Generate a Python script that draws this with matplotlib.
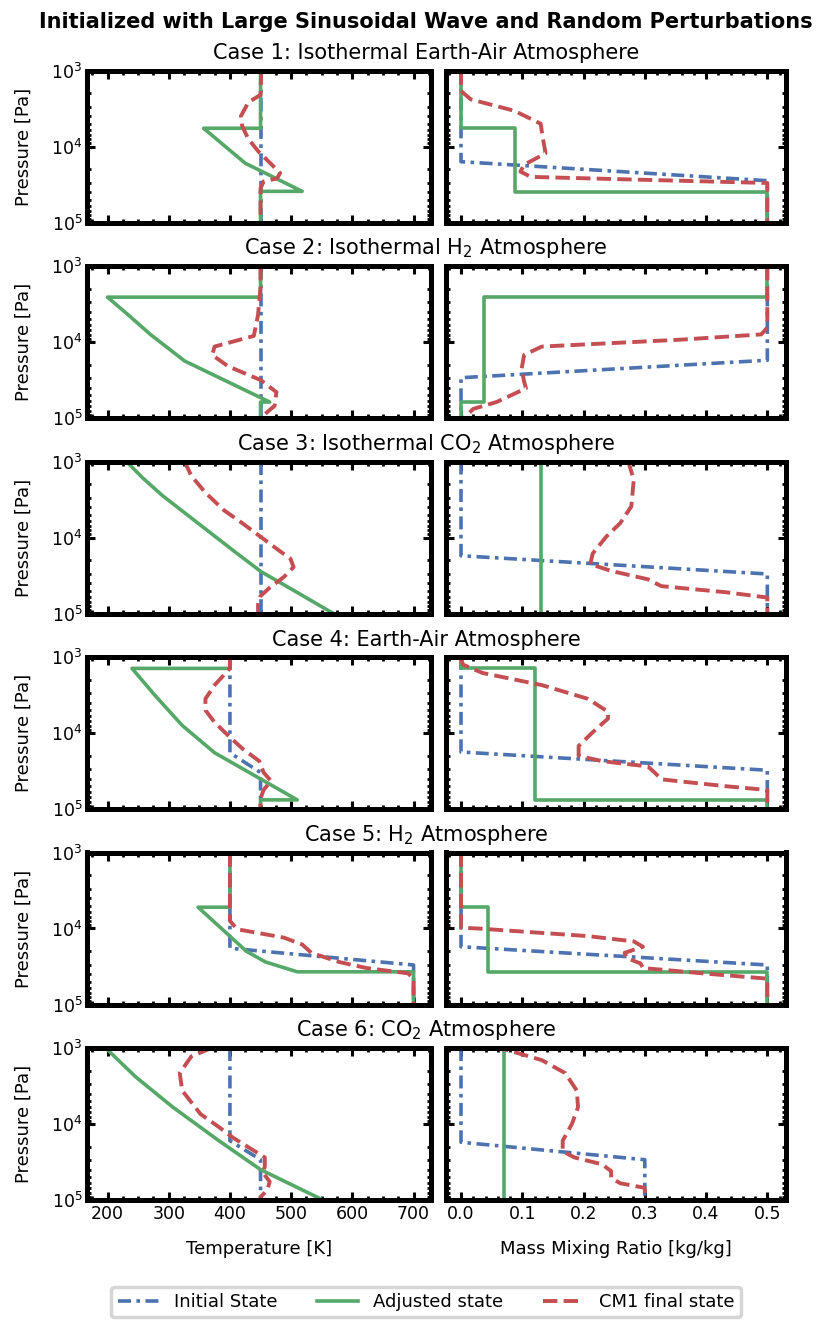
import numpy as np
import matplotlib
matplotlib.use("Agg")
import matplotlib.pyplot as plt
from matplotlib.ticker import LogLocator, MultipleLocator, NullFormatter

# colours (seaborn deep)
c_init = "#4C72B0"
c_adj = "#55A868"
c_cm1 = "#C44E52"

case_titles = [
    "Case 1: Isothermal Earth-Air Atmosphere",
    "Case 2: Isothermal H$_2$ Atmosphere",
    "Case 3: Isothermal CO$_2$ Atmosphere",
    "Case 4: Earth-Air Atmosphere",
    "Case 5: H$_2$ Atmosphere",
    "Case 6: CO$_2$ Atmosphere",
]

# pressures are given as log10(p / Pa)
# ---- case 1
T1_init = [450, 450]; lpT1_init = [3.0, 5.0]
T1_adj = [450, 450, 357, 425, 518, 450, 450]; lpT1_adj = [3.0, 3.76, 3.76, 4.22, 4.59, 4.59, 5.0]
T1_cm1 = [451, 450, 430, 418, 420, 430, 447, 466, 482, 477, 455, 450, 450]
lpT1_cm1 = [3.0, 3.32, 3.42, 3.60, 3.73, 3.90, 4.07, 4.22, 4.35, 4.42, 4.46, 4.55, 5.0]
q1_init = [0.0, 0.0, 0.5, 0.5]; lpq1_init = [3.0, 4.20, 4.45, 5.0]
q1_adj = [0.0, 0.0, 0.088, 0.088, 0.5, 0.5]; lpq1_adj = [3.0, 3.76, 3.76, 4.60, 4.60, 5.0]
q1_cm1 = [0.0, 0.0, 0.016, 0.087, 0.13, 0.133, 0.138, 0.103, 0.097, 0.114, 0.5, 0.5]
lpq1_cm1 = [3.0, 3.27, 3.38, 3.53, 3.70, 3.86, 4.09, 4.24, 4.33, 4.40, 4.48, 5.0]

# ---- case 2
T2_init = [450, 450]; lpT2_init = [3.0, 5.0]
T2_adj = [450, 450, 200, 232, 270, 326, 465, 450, 450]
lpT2_adj = [3.0, 3.41, 3.41, 3.63, 3.90, 4.25, 4.79, 4.79, 5.0]
T2_cm1 = [450, 450, 446, 439, 375, 371, 397, 450, 476, 473, 454, 450]
lpT2_cm1 = [3.0, 3.28, 3.64, 3.92, 4.06, 4.17, 4.32, 4.50, 4.66, 4.84, 4.97, 5.0]
q2_init = [0.5, 0.5, 0.0, 0.0]; lpq2_init = [3.0, 4.24, 4.47, 5.0]
q2_adj = [0.5, 0.5, 0.037, 0.037, 0.0, 0.0]; lpq2_adj = [3.0, 3.41, 3.41, 4.79, 4.79, 5.0]
q2_cm1 = [0.5, 0.5, 0.49, 0.357, 0.132, 0.103, 0.099, 0.103, 0.106, 0.058, 0.02, 0.005]
lpq2_cm1 = [3.0, 3.81, 3.90, 3.97, 4.06, 4.17, 4.35, 4.52, 4.61, 4.79, 4.88, 5.0]

# ---- case 3
T3_init = [450, 450]; lpT3_init = [3.0, 5.0]
T3_adj = [231, 258, 290, 330, 370, 410, 451, 505, 569]
lpT3_adj = [3.0, 3.22, 3.45, 3.70, 3.95, 4.20, 4.45, 4.70, 5.0]
T3_cm1 = [326, 337, 360, 390, 420, 450, 480, 499, 504, 488, 465, 450, 446, 446]
lpT3_cm1 = [3.0, 3.19, 3.41, 3.64, 3.81, 3.99, 4.17, 4.28, 4.39, 4.52, 4.66, 4.77, 4.88, 5.0]
q3_init = [0.0, 0.0, 0.5, 0.5]; lpq3_init = [3.0, 4.24, 4.48, 5.0]
q3_adj = [0.131, 0.131]; lpq3_adj = [3.0, 5.0]
q3_cm1 = [0.273, 0.282, 0.278, 0.26, 0.237, 0.215, 0.211, 0.245, 0.305, 0.327, 0.432, 0.5, 0.5]
lpq3_cm1 = [3.0, 3.24, 3.59, 3.81, 3.99, 4.21, 4.35, 4.44, 4.55, 4.64, 4.72, 4.79, 5.0]

# ---- case 4
T4_init = [400, 400, 450, 450]; lpT4_init = [3.0, 4.26, 4.52, 5.0]
T4_adj = [400, 400, 240, 277, 322, 375, 510, 450, 450]
lpT4_adj = [3.0, 3.15, 3.15, 3.50, 3.90, 4.26, 4.88, 4.88, 5.0]
T4_cm1 = [400, 400, 375, 360, 360, 375, 398, 421, 448, 455, 467, 455, 450, 450]
lpT4_cm1 = [3.0, 3.15, 3.37, 3.55, 3.70, 3.86, 4.04, 4.21, 4.37, 4.52, 4.63, 4.75, 4.86, 5.0]
q4_init = [0.0, 0.0, 0.5, 0.5]; lpq4_init = [3.0, 4.25, 4.49, 5.0]
q4_adj = [0.0, 0.0, 0.12, 0.12, 0.5, 0.5]; lpq4_adj = [3.0, 3.15, 3.15, 4.88, 4.88, 5.0]
q4_cm1 = [0.0, 0.003, 0.035, 0.132, 0.207, 0.24, 0.24, 0.215, 0.192, 0.192, 0.23, 0.305,
          0.316, 0.327, 0.432, 0.5, 0.5]
lpq4_cm1 = [3.0, 3.10, 3.21, 3.37, 3.55, 3.72, 3.81, 3.99, 4.17, 4.30, 4.37, 4.44,
            4.52, 4.61, 4.70, 4.75, 5.0]

# ---- case 5
T5_init = [400, 400, 700, 700]; lpT5_init = [3.0, 4.26, 4.48, 5.0]
T5_adj = [400, 400, 348, 397, 427, 458, 510, 700, 700]
lpT5_adj = [3.0, 3.72, 3.72, 4.08, 4.30, 4.44, 4.57, 4.57, 5.0]
T5_cm1 = [400, 400, 412, 488, 518, 533, 578, 623, 691, 700, 700]
lpT5_cm1 = [3.0, 3.90, 4.01, 4.12, 4.21, 4.32, 4.44, 4.52, 4.59, 4.66, 5.0]
q5_init = [0.0, 0.0, 0.5, 0.5]; lpq5_init = [3.0, 4.24, 4.48, 5.0]
q5_adj = [0.0, 0.0, 0.044, 0.044, 0.5, 0.5]; lpq5_adj = [3.0, 3.72, 3.72, 4.57, 4.57, 5.0]
q5_cm1 = [0.0, 0.0, 0.028, 0.207, 0.282, 0.297, 0.267, 0.271, 0.293, 0.297, 0.394, 0.5, 0.5]
lpq5_cm1 = [3.0, 3.99, 4.00, 4.10, 4.17, 4.24, 4.32, 4.39, 4.46, 4.52, 4.59, 4.66, 5.0]

# ---- case 6
T6_init = [400, 400, 450, 450]; lpT6_init = [3.0, 4.22, 4.47, 5.0]
T6_adj = [197, 246, 307, 382, 450, 552, 450]; lpT6_adj = [3.0, 3.38, 3.78, 4.22, 4.60, 5.0, 5.0]
T6_cm1 = [370, 337, 318, 322, 352, 382, 405, 435, 457, 457, 454, 465, 461, 450, 450]
lpT6_cm1 = [3.0, 3.11, 3.33, 3.56, 3.87, 4.04, 4.18, 4.33, 4.44, 4.56, 4.64, 4.76, 4.87, 4.96, 5.0]
q6_init = [0.0, 0.0, 0.3, 0.3]; lpq6_init = [3.0, 4.24, 4.47, 5.0]
q6_adj = [0.07, 0.07, 0.3]; lpq6_adj = [3.0, 5.0, 5.0]
q6_cm1 = [0.054, 0.073, 0.132, 0.17, 0.189, 0.191, 0.181, 0.166, 0.166, 0.185, 0.23, 0.245,
          0.245, 0.26, 0.30, 0.30, 0.30]
lpq6_cm1 = [3.0, 3.02, 3.16, 3.33, 3.56, 3.78, 4.0, 4.22, 4.36, 4.44, 4.53, 4.62,
            4.71, 4.78, 4.84, 4.93, 5.0]

temp_cases = [
    [(T1_init, lpT1_init), (T1_adj, lpT1_adj), (T1_cm1, lpT1_cm1)],
    [(T2_init, lpT2_init), (T2_adj, lpT2_adj), (T2_cm1, lpT2_cm1)],
    [(T3_init, lpT3_init), (T3_adj, lpT3_adj), (T3_cm1, lpT3_cm1)],
    [(T4_init, lpT4_init), (T4_adj, lpT4_adj), (T4_cm1, lpT4_cm1)],
    [(T5_init, lpT5_init), (T5_adj, lpT5_adj), (T5_cm1, lpT5_cm1)],
    [(T6_init, lpT6_init), (T6_adj, lpT6_adj), (T6_cm1, lpT6_cm1)],
]
mmr_cases = [
    [(q1_init, lpq1_init), (q1_adj, lpq1_adj), (q1_cm1, lpq1_cm1)],
    [(q2_init, lpq2_init), (q2_adj, lpq2_adj), (q2_cm1, lpq2_cm1)],
    [(q3_init, lpq3_init), (q3_adj, lpq3_adj), (q3_cm1, lpq3_cm1)],
    [(q4_init, lpq4_init), (q4_adj, lpq4_adj), (q4_cm1, lpq4_cm1)],
    [(q5_init, lpq5_init), (q5_adj, lpq5_adj), (q5_cm1, lpq5_cm1)],
    [(q6_init, lpq6_init), (q6_adj, lpq6_adj), (q6_cm1, lpq6_cm1)],
]

labels = ["Initial State", "Adjusted state", "CM1 final state"]
styles = [
    dict(color=c_init, lw=2.6, dashes=(3.6, 1.5, 1.0, 1.5)),
    dict(color=c_adj, lw=2.6, ls="-"),
    dict(color=c_cm1, lw=2.8, ls="--"),
]

W, H = 826, 1335
fig = plt.figure(figsize=(W / 100, H / 100), dpi=100)

ax_left, ax_w_l = 87.3, 343.4
ax_right, ax_w_r = 445.7, 340.0
row_top0, row_step, row_h = 70.5, 195.5, 152.0


def setup(ax, xlim, major, minor):
    ax.set_yscale("log")
    ax.set_ylim(1e5, 1e3)
    ax.set_xlim(*xlim)
    ax.xaxis.set_major_locator(MultipleLocator(major))
    ax.xaxis.set_minor_locator(MultipleLocator(minor))
    ax.yaxis.set_major_locator(LogLocator(base=10, numticks=10))
    ax.yaxis.set_minor_locator(LogLocator(base=10, subs=np.arange(2, 10), numticks=10))
    ax.yaxis.set_minor_formatter(NullFormatter())
    ax.tick_params(which="both", direction="in", top=True, right=True, color="black")
    ax.tick_params(which="major", length=6, width=2.2, labelsize=12.5)
    ax.tick_params(which="minor", length=3.2, width=2.0)
    for s in ax.spines.values():
        s.set_linewidth(3.6)
        s.set_color("black")


handles = []
for i in range(6):
    top = row_top0 + i * row_step
    b = 1 - (top + row_h) / H
    axT = fig.add_axes([ax_left / W, b, ax_w_l / W, row_h / H])
    axQ = fig.add_axes([ax_right / W, b, ax_w_r / W, row_h / H])
    setup(axT, (167, 728), 100, 25)
    setup(axQ, (-0.025, 0.53), 0.1, 0.02)
    for k in range(3):
        x, lp = temp_cases[i][k]
        h, = axT.plot(x, 10 ** np.array(lp), label=labels[k], **styles[k])
        if i == 0:
            handles.append(h)
        x, lp = mmr_cases[i][k]
        axQ.plot(x, 10 ** np.array(lp), **styles[k])
    axT.set_ylabel("Pressure [Pa]", fontsize=13, labelpad=13)
    axQ.tick_params(labelleft=False)
    if i < 5:
        axT.tick_params(labelbottom=False)
        axQ.tick_params(labelbottom=False)
    else:
        axT.set_xlabel("Temperature [K]", fontsize=13, labelpad=12)
        axQ.set_xlabel("Mass Mixing Ratio [kg/kg]", fontsize=13, labelpad=12)
        axQ.xaxis.set_major_formatter(matplotlib.ticker.FormatStrFormatter("%.1f"))
    fig.text(426 / W, 1 - (top - 11.5) / H, case_titles[i], ha="center",
             va="baseline", fontsize=15)

fig.text(426 / W, 1 - 28 / H, "Initialized with Large Sinusoidal Wave and Random Perturbations",
         ha="center", va="baseline", fontsize=15, fontweight="bold")

leg = fig.legend(handles, labels, loc="center", bbox_to_anchor=(426 / W, 1 - 1302 / H),
                 ncol=3, fontsize=13, frameon=True, fancybox=True, handlelength=2.3,
                 columnspacing=2.2, borderpad=0.35)
leg.get_frame().set_edgecolor("#cccccc")
leg.get_frame().set_linewidth(2.5)

fig.savefig("out.png", dpi=100)
